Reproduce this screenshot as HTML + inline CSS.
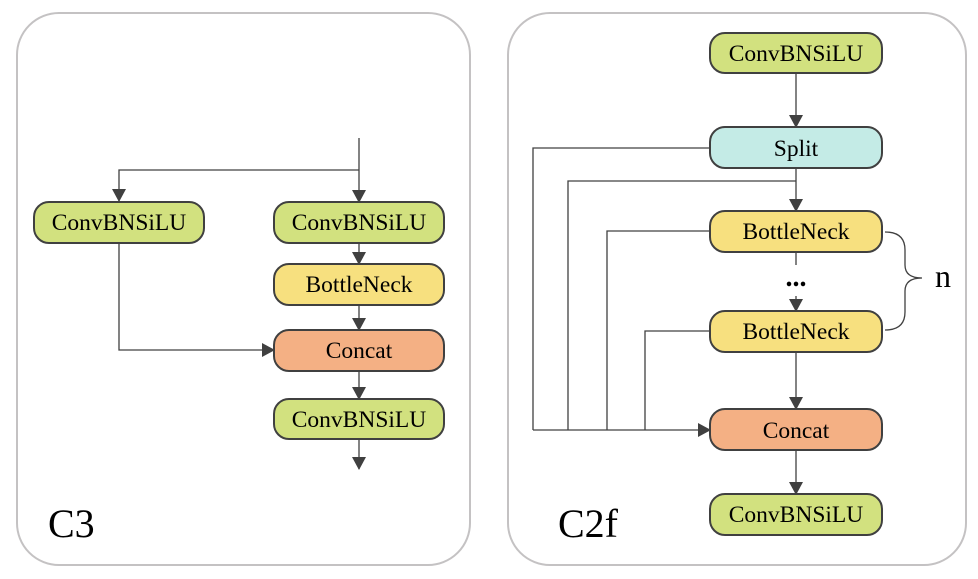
<!DOCTYPE html>
<html><head><meta charset="utf-8"><style>
html,body{margin:0;padding:0;background:#fff;}
svg{display:block;}
text{font-family:"Liberation Serif",serif;fill:#000;}
</style></head><body>
<svg width="978" height="579" viewBox="0 0 978 579" xmlns="http://www.w3.org/2000/svg">
<defs>
<marker id="a" markerWidth="13" markerHeight="14" refX="12" refY="7" orient="auto" markerUnits="userSpaceOnUse">
<path d="M0,0 L13,7 L0,14 Z" fill="#404040"/>
</marker>
</defs>
<rect x="17" y="13" width="453" height="552" rx="42" fill="#fff" stroke="#c4c2c3" stroke-width="2"/>
<rect x="508" y="13" width="458" height="552" rx="42" fill="#fff" stroke="#c4c2c3" stroke-width="2"/>

<g stroke="#404040" stroke-width="1.3" fill="none">
<line x1="359" y1="138" x2="359" y2="202" marker-end="url(#a)"/>
<polyline points="359,170 119,170 119,201" marker-end="url(#a)"/>
<line x1="359" y1="243" x2="359" y2="264" marker-end="url(#a)"/>
<line x1="359" y1="305" x2="359" y2="330" marker-end="url(#a)"/>
<polyline points="119,242 119,350 274,350" marker-end="url(#a)"/>
<line x1="359" y1="371" x2="359" y2="399" marker-end="url(#a)"/>
<line x1="359" y1="439" x2="359" y2="469" marker-end="url(#a)"/>
<line x1="796" y1="73" x2="796" y2="127" marker-end="url(#a)"/>
<line x1="796" y1="168" x2="796" y2="211" marker-end="url(#a)"/>
<polyline points="710,148 533,148 533,430"/>
<polyline points="796,181 568,181 568,430"/>
<polyline points="710,231 607,231 607,430"/>
<polyline points="710,331 645,331 645,430"/>
<line x1="533" y1="430" x2="710" y2="430" marker-end="url(#a)"/>
<line x1="796" y1="252" x2="796" y2="265"/>
<line x1="796" y1="296" x2="796" y2="311" marker-end="url(#a)"/>
<line x1="796" y1="352" x2="796" y2="409" marker-end="url(#a)"/>
<line x1="796" y1="450" x2="796" y2="494" marker-end="url(#a)"/>
<path d="M885,232 Q905,232 905,250 L905,265 Q905,278 922,278 Q905,278 905,291 L905,312 Q905,330 885,330"/>
</g>

<g stroke="#404040" stroke-width="2">
<rect x="34" y="202" width="170" height="41" rx="15" fill="#d2e17f"/>
<rect x="274" y="202" width="170" height="41" rx="15" fill="#d2e17f"/>
<rect x="274" y="264" width="170" height="41" rx="15" fill="#f7e07f"/>
<rect x="274" y="330" width="170" height="41" rx="15" fill="#f4b084"/>
<rect x="274" y="399" width="170" height="40" rx="15" fill="#d2e17f"/>
<rect x="710" y="33" width="172" height="40" rx="15" fill="#d2e17f"/>
<rect x="710" y="127" width="172" height="41" rx="15" fill="#c4ebe6"/>
<rect x="710" y="211" width="172" height="41" rx="15" fill="#f7e07f"/>
<rect x="710" y="311" width="172" height="41" rx="15" fill="#f7e07f"/>
<rect x="710" y="409" width="172" height="41" rx="15" fill="#f4b084"/>
<rect x="710" y="494" width="172" height="41" rx="15" fill="#d2e17f"/>
</g>

<g font-size="23.5" text-anchor="middle">
<text x="119" y="230">ConvBNSiLU</text>
<text x="359" y="230">ConvBNSiLU</text>
<text x="359" y="292">BottleNeck</text>
<text x="359" y="358">Concat</text>
<text x="359" y="427">ConvBNSiLU</text>
<text x="796" y="61">ConvBNSiLU</text>
<text x="796" y="156">Split</text>
<text x="796" y="239">BottleNeck</text>
<text x="796" y="286" font-size="28" font-weight="bold">...</text>
<text x="796" y="339">BottleNeck</text>
<text x="796" y="438">Concat</text>
<text x="796" y="522">ConvBNSiLU</text>
</g>
<text x="935" y="287" font-size="32">n</text>
<text x="48" y="537" font-size="40">C3</text>
<text x="558" y="537" font-size="40">C2f</text>
</svg>
</body></html>
